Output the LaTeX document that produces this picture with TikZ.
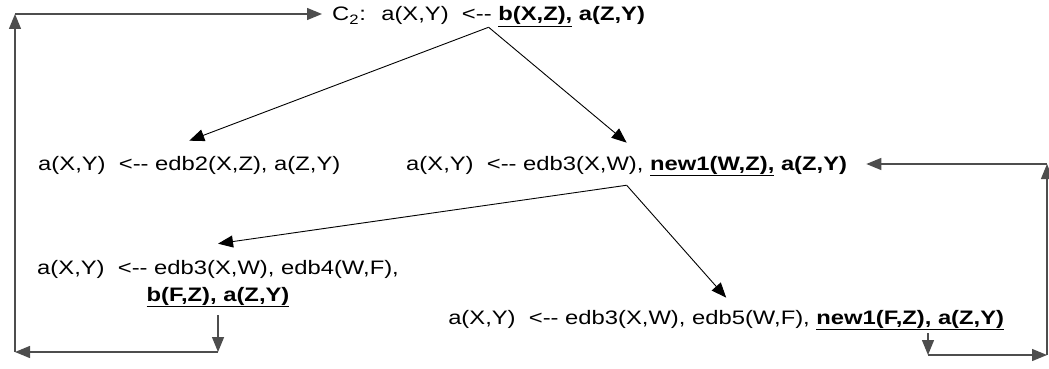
\documentclass[tikz,border=0pt]{standalone}
\usepackage{fontspec}
\setmainfont{Liberation Sans}
\usetikzlibrary{arrows.meta, calc}
\definecolor{cline}{HTML}{4D4D4D}
\tikzset{
  every picture/.style={x=1pt, y=-1pt},
  clause/.style={font=\fontsize{19.5}{27}\selectfont, inner sep=0pt, xscale=1.22, anchor=base west},
  link/.style={-{Triangle[length=15pt, width=12pt]}, draw=black, line width=0.9pt},
  back/.style={-{Triangle[length=15pt, width=12pt]}, draw=cline, line width=1.3pt},
}
\newcommand{\chosen}[1]{\underline{\textbf{#1}}}

\begin{document}
\begin{tikzpicture}
  \useasboundingbox (0,0) rectangle (1049,369);
  % clauses
  \node[clause] (c2) at (332,21) {C\textsubscript{2}:~ a(X,Y)~ <-{}- \chosen{b(X,Z),} \textbf{a(Z,Y)}};
  \node[clause] (n2) at (38,170) {a(X,Y)~ <-{}- edb2(X,Z), a(Z,Y)};
  \node[clause] (n3) at (406,170) {a(X,Y)~ <-{}- edb3(X,W), \chosen{new1(W,Z),} \textbf{a(Z,Y)}};
  \node[clause, align=center] (n4) at (37,301) {a(X,Y)~ <-{}- edb3(X,W), edb4(W,F),\\ \chosen{b(F,Z), a(Z,Y)}};
  \node[clause] (n5) at (448,324) {a(X,Y)~ <-{}- edb3(X,W), edb5(W,F), \chosen{new1(F,Z), a(Z,Y)}};
  % corners of the feedback paths
  \coordinate (l1) at (n4.south |- 0,352);
  \coordinate (l2) at (15,352);
  \coordinate (l3) at (15,14);
  \coordinate (r1) at (928,355);
  \coordinate (r2) at (1047,355);
  \coordinate (r3) at (1047,164);
  % unfolding steps
  \draw[link] (c2.south) -- ([yshift=15pt]n2.north);
  \draw[link] (c2.south) -- ([yshift=13pt]n3.north);
  \draw[link] ([yshift=-9pt]n3.south) -- ([yshift=16pt]n4.north);
  \draw[link] ([yshift=-9pt]n3.south) -- ([yshift=12pt]n5.north);
  % back to earlier clauses
  \draw[back, shorten <=8pt] (n4.south) -- (l1);
  \draw[back] (l1) -- (l2);
  \draw[back] (l2) -- (l3);
  \draw[back, shorten >=10pt] (l3) -- (l3 -| c2.west);
  \draw[back, shorten <=3pt] (r1 |- n5.south) -- (r1);
  \draw[back] (r1) -- (r2);
  \draw[back] (r2) -- (r3);
  \draw[back, shorten >=19pt] (r3) -- (r3 -| n3.east);
\end{tikzpicture}
\end{document}
